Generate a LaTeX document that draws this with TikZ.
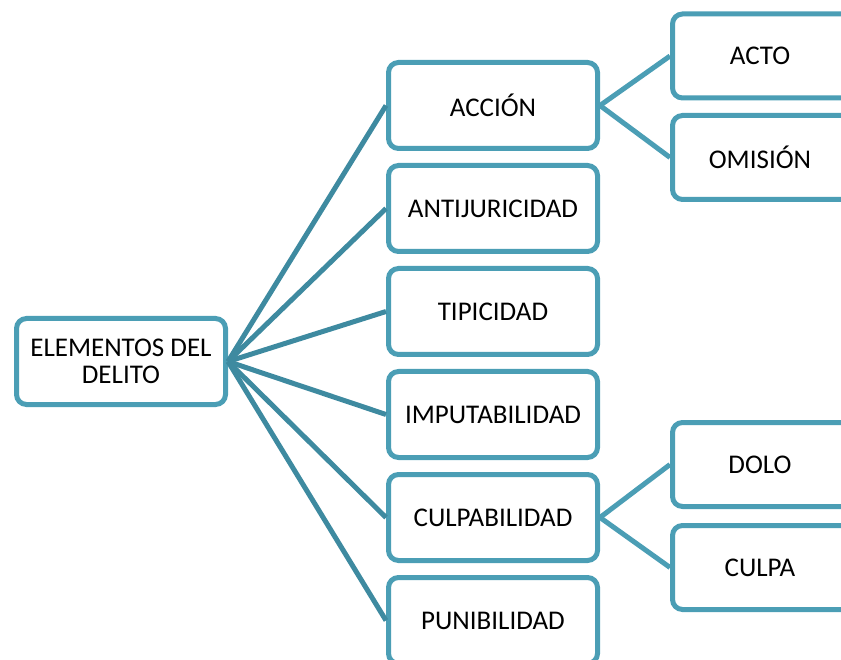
\documentclass[tikz,border=0pt]{standalone}
\usepackage{fontspec}
\setmainfont{Carlito}
\definecolor{boxc}{RGB}{75,158,181}
\definecolor{linec}{RGB}{62,138,160}
\begin{document}
\begin{tikzpicture}[x=1pt,y=-1pt,
  boxbase/.style={draw=boxc, line width=5pt, rounded corners=10pt, fill=white,
    inner sep=0pt, font=\fontsize{27}{27.5}\selectfont},
  midbox/.style={boxbase, align=center, minimum width=209pt, minimum height=86pt},
  endbox/.style={boxbase, minimum width=200pt, minimum height=84pt,
    execute at end node={\hspace{25pt}}},
  mainlink/.style={draw=linec, line width=5pt},
  sublink/.style={draw=boxc, line width=5pt}]
\useasboundingbox (0,0) rectangle (841,660);
\clip (0,0) rectangle (841,660);
\node[midbox] (root) at (121,361.5) {ELEMENTOS DEL\\DELITO};
\node[midbox] (accion) at (493,105.5) {ACCIÓN};
\node[midbox] (anti) at (493,208.5) {ANTIJURICIDAD};
\node[midbox] (tipi) at (493,311.5) {TIPICIDAD};
\node[midbox] (impu) at (493,414.5) {IMPUTABILIDAD};
\node[midbox] (culpab) at (493,517.5) {CULPABILIDAD};
\node[midbox] (puni) at (493,620.5) {PUNIBILIDAD};
\node[endbox] (acto) at (772.5,56) {ACTO};
\node[endbox] (omision) at (772.5,157.5) {OMISIÓN};
\node[endbox] (dolo) at (772.5,464.5) {DOLO};
\node[endbox] (culpa) at (772.5,567.5) {CULPA};
\foreach \t in {accion,anti,tipi,impu,culpab,puni}
  \path[mainlink] (root.east) -- (\t.west);
\path[sublink] (accion.east) -- (acto.west);
\path[sublink] (accion.east) -- (omision.west);
\path[sublink] (culpab.east) -- (dolo.west);
\path[sublink] (culpab.east) -- (culpa.west);
\end{tikzpicture}
\end{document}
